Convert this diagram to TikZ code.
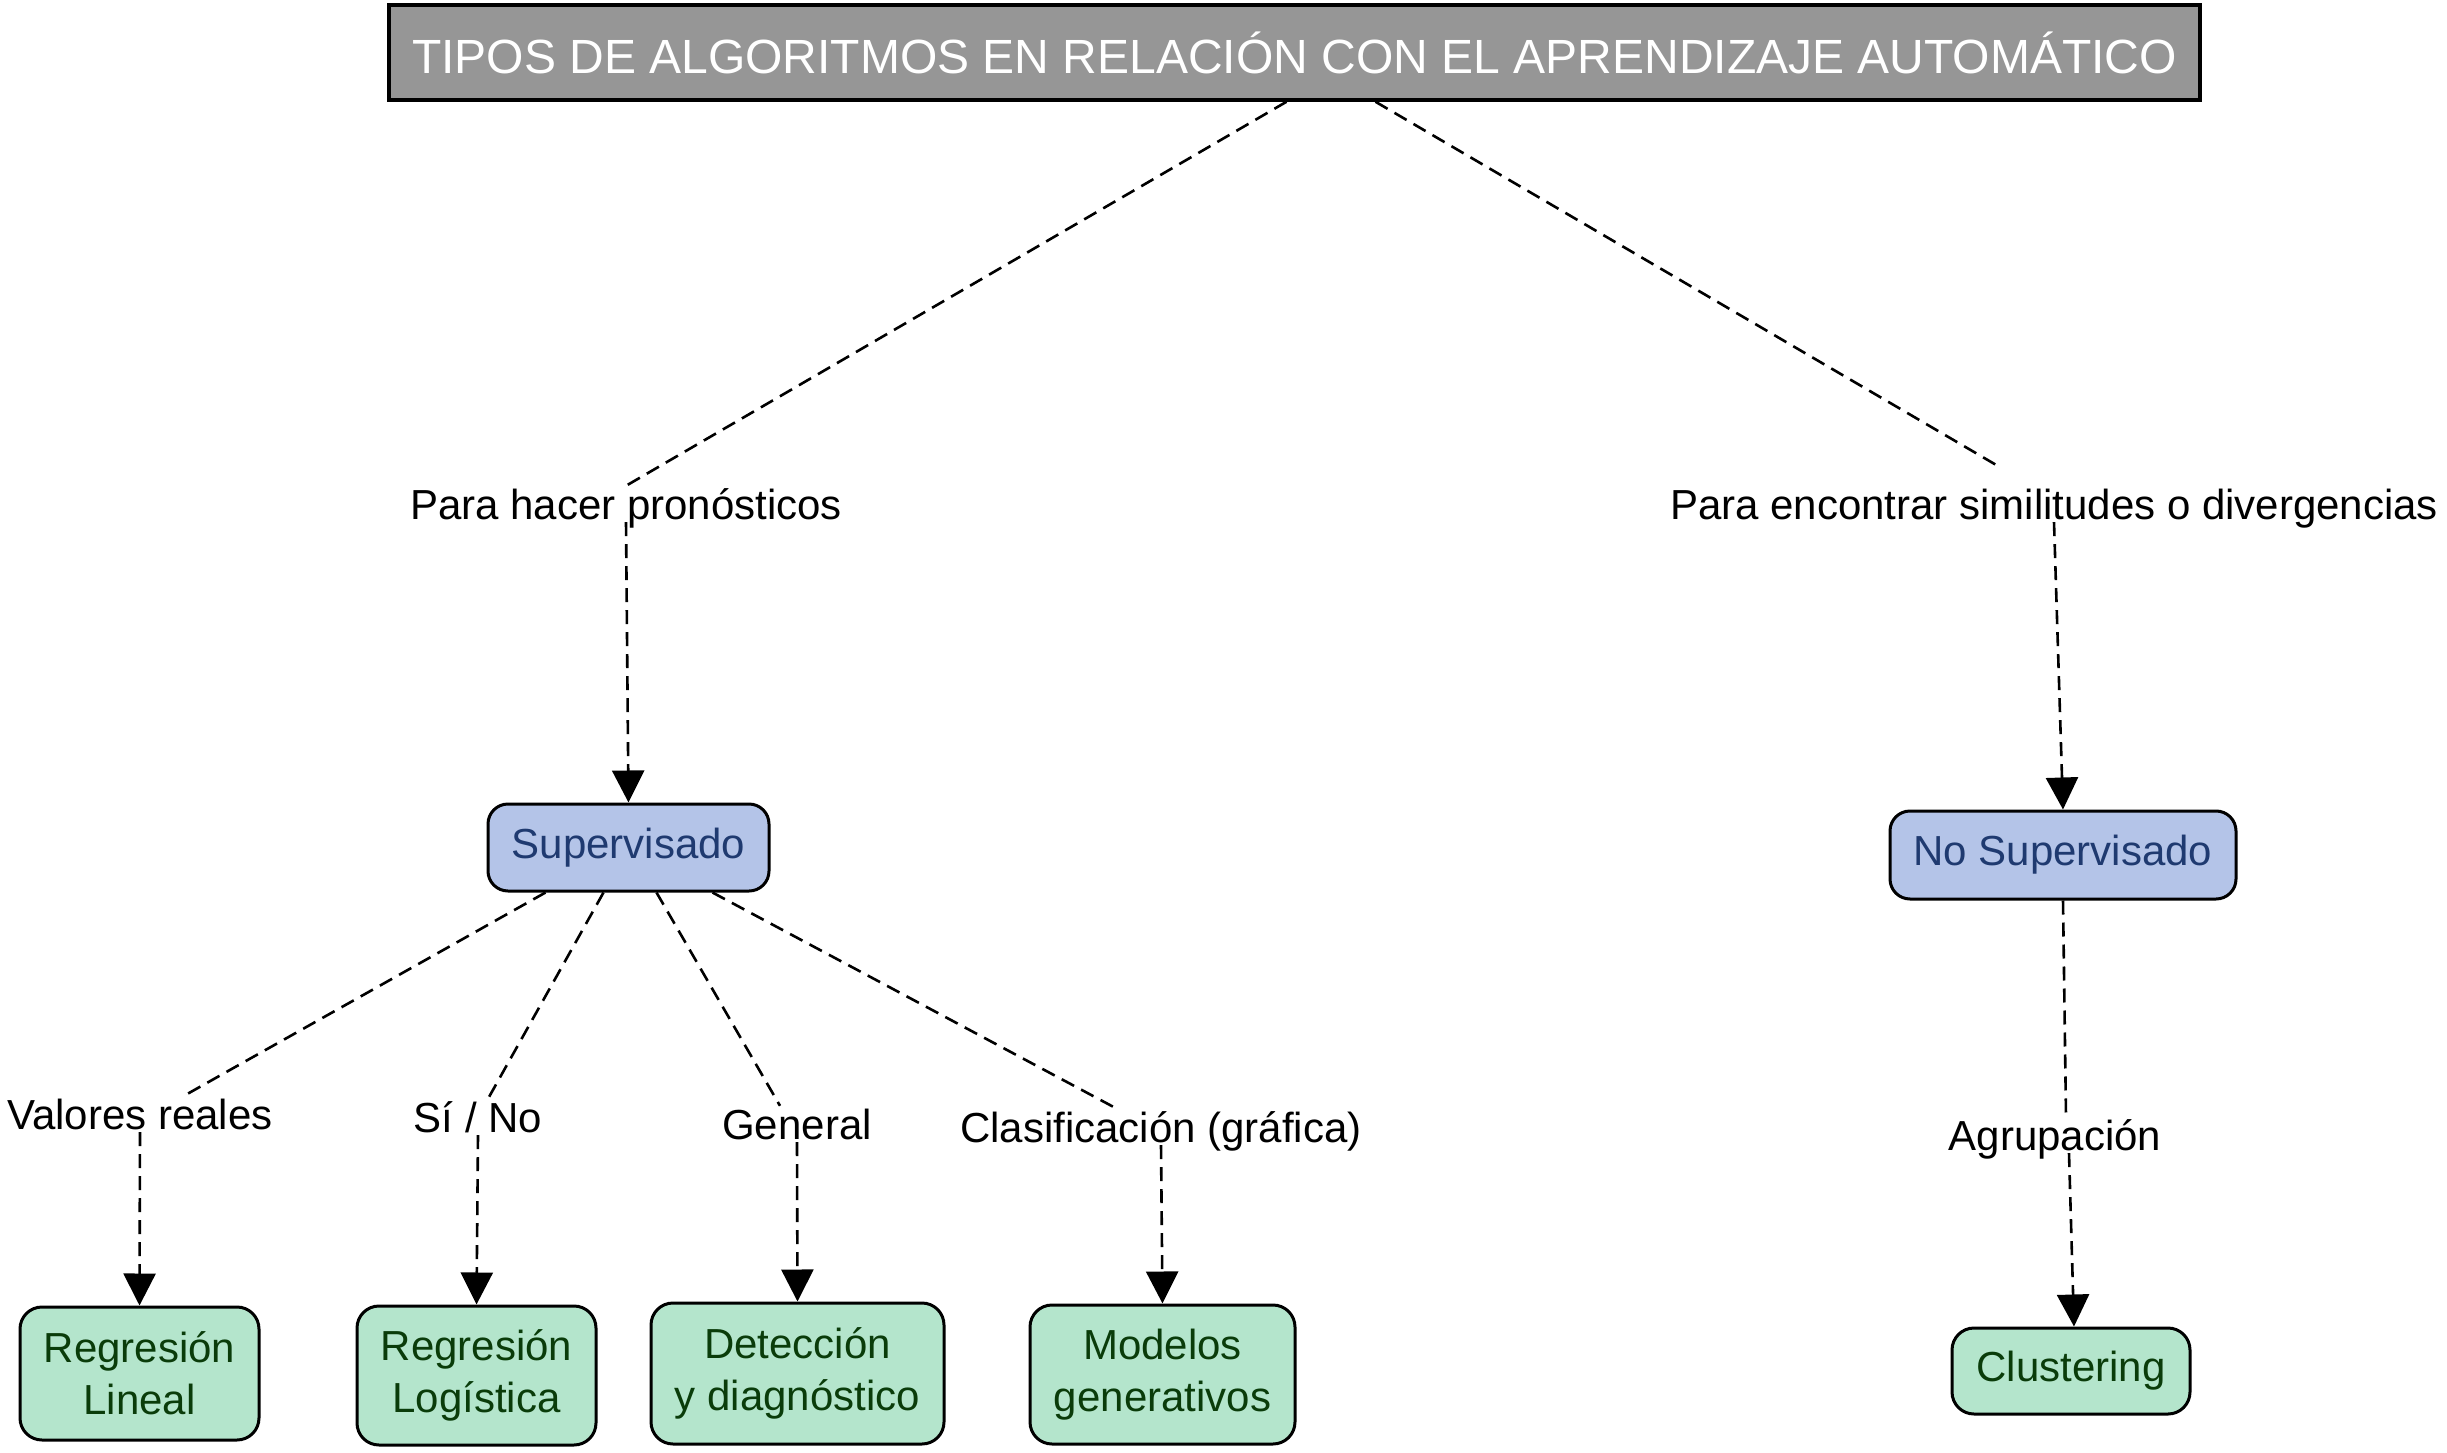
\documentclass[tikz,border=0pt]{standalone}
\usepackage{fontspec}
\setmainfont{Liberation Sans}
\usetikzlibrary{arrows.meta,calc}
\definecolor{titlegray}{RGB}{150,150,150}
\definecolor{supfill}{RGB}{180,196,232}
\definecolor{suptext}{RGB}{31,58,112}
\definecolor{leaffill}{RGB}{180,229,204}
\definecolor{leaftext}{RGB}{10,60,10}
\begin{document}
\begin{tikzpicture}[x=1pt,y=-1pt,
  titlebox/.style={draw=black,line width=3.5pt,fill=titlegray,text=white,inner sep=0pt,
    font=\fontsize{48}{58}\selectfont},
  supbox/.style={draw=black,line width=3pt,fill=supfill,text=suptext,rounded corners=20pt,
    inner sep=0pt,font=\fontsize{42}{52}\selectfont},
  leafbox/.style={draw=black,line width=3pt,fill=leaffill,text=leaftext,rounded corners=22pt,
    inner sep=0pt,align=center,font=\fontsize{42}{52}\selectfont},
  lbl/.style={inner sep=3pt,text height=30pt,text depth=0pt,font=\fontsize{42}{52}\selectfont},
  conn/.style={line width=2.6pt,dash pattern=on 14pt off 8pt},
  arr/.style={conn,-{Triangle[length=32pt,width=32pt]}}
]
\useasboundingbox[fill=white] (0,0) rectangle (2447,1453);

\node[titlebox,minimum width=1811pt,minimum height=95pt] (title) at (1294.5,52.5)
  {TIPOS DE ALGORITMOS EN RELACIÓN CON EL APRENDIZAJE AUTOMÁTICO};

\node[lbl] (lab1) at (626,504) {Para hacer pronósticos};
\node[lbl] (lab2) at (2054,504) {Para encontrar similitudes o divergencias};

\node[supbox,minimum width=281pt,minimum height=87pt] (sup) at (628.5,847.5) {Supervisado};
\node[supbox,minimum width=346pt,minimum height=88pt] (nosup) at (2063,855) {No Supervisado};

\node[lbl] (lv) at (140,1114) {Valores reales};
\node[lbl] (lsn) at (478,1117) {Sí / No};
\node[lbl] (lg) at (797,1124) {General};
\node[lbl] (lc) at (1161,1127) {Clasificación (gráfica)};
\node[lbl] (la) at (2055,1135) {Agrupación};

\node[leafbox,minimum width=239pt,minimum height=133pt] (rl) at (139.5,1373.5) {Regresión\\Lineal};
\node[leafbox,minimum width=239pt,minimum height=139pt] (rlog) at (476.5,1375.5) {Regresión\\Logística};
\node[leafbox,minimum width=293pt,minimum height=141pt] (det) at (797.5,1373.5) {Detección\\y diagnóstico};
\node[leafbox,minimum width=265pt,minimum height=139pt] (mod) at (1162.5,1374.5) {Modelos\\generativos};
\node[leafbox,minimum width=238pt,minimum height=86pt] (clu) at (2071,1371) {Clustering};

\draw[conn] ([xshift=-8pt]title.south) -- (lab1.north);
\draw[conn] ([xshift=81pt]title.south) -- ($(lab2.north)+(-53,-18)$);
\draw[arr] (lab1.south) -- (sup.north);
\draw[arr] (lab2.south) -- (nosup.north);

\draw[conn] ([xshift=-83pt]sup.south) -- ([xshift=44pt]lv.north);
\draw[conn] ([xshift=-25pt]sup.south) -- ([xshift=10pt]lsn.north);
\draw[conn] ([xshift=28pt]sup.south) -- ([xshift=-17pt]lg.north);
\draw[conn] ([xshift=84pt]sup.south) -- ([xshift=-44pt]lc.north);
\draw[conn] (nosup.south) -- ([xshift=11pt]la.north);

\draw[arr] (lv.south) -- (rl.north);
\draw[arr] (lsn.south) -- (rlog.north);
\draw[arr] (lg.south) -- (det.north);
\draw[arr] (lc.south) -- (mod.north);
\draw[arr] ([xshift=14pt]la.south) -- ([xshift=3pt]clu.north);
\end{tikzpicture}
\end{document}
